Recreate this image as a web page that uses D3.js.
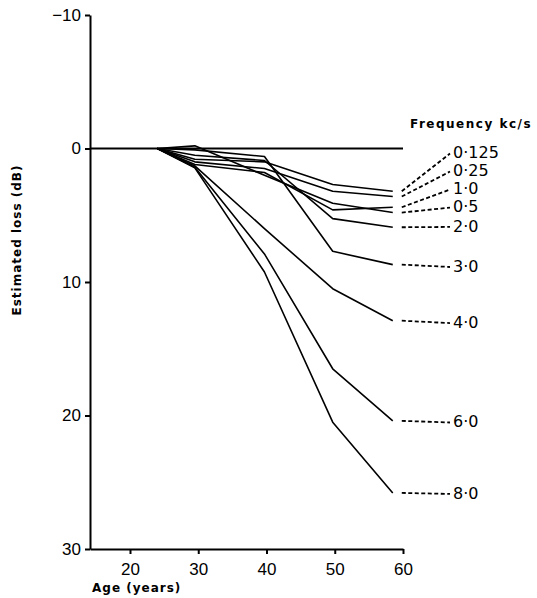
<!DOCTYPE html>
<html>
<head>
<meta charset="utf-8">
<script src="https://cdn.jsdelivr.net/npm/d3@7"></script>
<style>
    body { margin: 0; background: #fff; }
    svg { display: block; font-family: "DejaVu Sans", sans-serif; }
</style>
</head>
<body>
<div id="chart"></div>
<script>
// data: estimated loss (dB) against age, one series per frequency
const ages = [24, 29.5, 39.7, 49.7, 58.5];
const frequencies = ['0·125', '0·25', '0·5', '1·0', '2·0', '3·0', '4·0', '6·0', '8·0'];
const loss0125 = [0, 0.8, 1.0, 2.7, 3.2];
const loss025 = [0, 1.0, 1.5, 3.2, 3.6];
const loss05 = [0, -0.2, 2.0, 4.1, 4.8];
const loss1 = [0, 1.2, 1.8, 4.6, 4.4];
const loss2 = [0, 0.5, 0.9, 5.25, 5.9];
const loss3 = [0, 0.1, 0.6, 7.7, 8.7];
const loss4 = [0, 1.3, 6.0, 10.5, 12.9];
const loss6 = [0, 1.4, 7.9, 16.5, 20.4];
const loss8 = [0, 1.45, 9.25, 20.5, 25.8];
const xTicks = [20, 30, 40, 50, 60];
const yTicks = [-10, 0, 10, 20, 30];

// layout only: where each frequency label sits (in dB units)
const labelAt = [0.3, 1.65, 4.35, 3.0, 5.8, 8.8, 13.0, 20.45, 25.8];

const series = [loss0125, loss025, loss05, loss1, loss2, loss3, loss4, loss6, loss8]
    .map((vals, i) => ({ freq: frequencies[i], label: labelAt[i], points: vals.map((v, j) => [ages[j], v]) }));

const width = 537, height = 598;

const svg = d3.select('#chart')
    .append('svg')
    .attr('width', width)
    .attr('height', height);

const x = d3.scaleLinear([14.14, 60], [90, 403]);
const y = d3.scaleLinear([-10, 30], [15, 549]);

// axes
const axisY = svg.append('g')
    .attr('transform', `translate(${x.range()[0]}, 0)`)
    .call(d3.axisLeft(y).tickValues(yTicks).tickSize(5).tickSizeOuter(0).tickPadding(4));
const axisX = svg.append('g')
    .attr('transform', `translate(0, ${y.range()[1]})`)
    .call(d3.axisBottom(x).tickValues(xTicks).tickSize(5).tickSizeOuter(0).tickPadding(9));

[axisX, axisY].forEach(a => {
    a.selectAll('path, line').attr('stroke', '#000').attr('stroke-width', 2);
    a.selectAll('text').attr('fill', '#000').style('font-size', '17px').attr('font-family', null);
});

// zero reference line
svg.append('line')
    .attr('x1', x.range()[0]).attr('x2', x(60))
    .attr('y1', y(0)).attr('y2', y(0))
    .attr('stroke', '#000').attr('stroke-width', 2);

// curves
const line = d3.line().x(d => x(d[0])).y(d => y(d[1]));
svg.append('g')
    .selectAll('path')
    .data(series)
    .join('path')
    .attr('d', d => line(d.points))
    .attr('fill', 'none')
    .attr('stroke', '#000')
    .attr('stroke-width', 1.6)
    .attr('stroke-linejoin', 'round');

// dashed leaders + frequency labels
const labelX = 453;
const lastAge = ages[ages.length - 1];
svg.append('g')
    .selectAll('line')
    .data(series)
    .join('line')
    .attr('x1', x(lastAge) + 9)
    .attr('y1', d => y(d.points[d.points.length - 1][1]))
    .attr('x2', labelX - 3)
    .attr('y2', d => y(d.label) + 1)
    .attr('stroke', '#000')
    .attr('stroke-width', 1.8)
    .attr('stroke-dasharray', '4,2.5');

svg.append('g')
    .selectAll('text')
    .data(series)
    .join('text')
    .attr('x', labelX)
    .attr('y', d => y(d.label))
    .attr('dy', '0.36em')
    .style('font-size', '16px')
    .text(d => d.freq);

// titles
svg.append('text')
    .attr('x', 410).attr('y', 128)
    .style('font-size', '12px').style('font-weight', 'bold').style('letter-spacing', '1.5px')
    .text('Frequency kc/s');

svg.append('text')
    .attr('transform', 'translate(21, 240) rotate(-90)')
    .style('text-anchor', 'middle')
    .style('font-size', '12px').style('font-weight', 'bold').style('letter-spacing', '1px')
    .text('Estimated loss (dB)');

svg.append('text')
    .attr('x', 92).attr('y', 592)
    .style('font-size', '12px').style('font-weight', 'bold').style('letter-spacing', '1px')
    .text('Age (years)');
</script>
</body>
</html>
